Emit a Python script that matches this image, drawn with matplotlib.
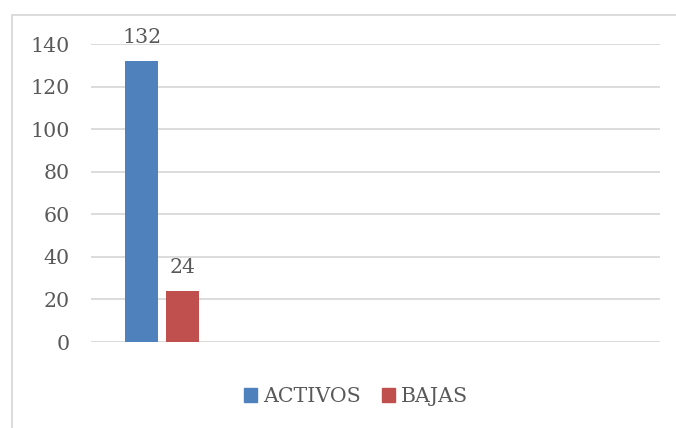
import matplotlib.pyplot as plt
from matplotlib.patches import Rectangle, Patch

series = ["ACTIVOS", "BAJAS"]
values = [132, 24]
colors = ["#4F81BD", "#C0504D"]
yticks = [0, 20, 40, 60, 80, 100, 120, 140]

plt.rcParams['font.family'] = ['DejaVu Serif']
txt = "#595959"
fs = 14.8

fig = plt.figure(figsize=(6.76, 4.28), dpi=100)
ax = fig.add_axes([91/676, 1-342/428, 569/676, 298/428])

offsets = [-0.144, 0.144]
for name, v, c, off in zip(series, values, colors, offsets):
    ax.bar(off, v, width=0.232, color=c, label=name, zorder=3)
    ax.text(off, v + 6.5, str(v), ha="center", va="bottom", fontsize=fs, color=txt)

ax.set_xlim(-0.5, 3.5)
ax.set_ylim(0, 140)
ax.set_yticks(yticks)
ax.set_yticklabels([str(t) for t in yticks], fontsize=fs, color=txt)
ax.set_xticks([])
ax.tick_params(axis="y", length=0, pad=15.5)
ax.grid(axis="y", color="#D9D9D9", linewidth=1.3, zorder=0)
for s in ax.spines.values():
    s.set_visible(False)
ax.set_axisbelow(True)

handles = [Patch(color=c) for c in colors]
fig.legend(handles, series, loc="center", bbox_to_anchor=(356/676, 1-397/428),
           ncol=2, frameon=False, fontsize=fs, handlelength=0.65, handleheight=0.65,
           handletextpad=0.3, columnspacing=1.0, labelcolor=txt)

fig.patches.append(Rectangle((12/676, -0.1), 1.2, 1.1 - 15/428, transform=fig.transFigure,
                             fill=False, edgecolor="#D9D9D9", linewidth=1.3))

fig.savefig("out.png", dpi=100)
